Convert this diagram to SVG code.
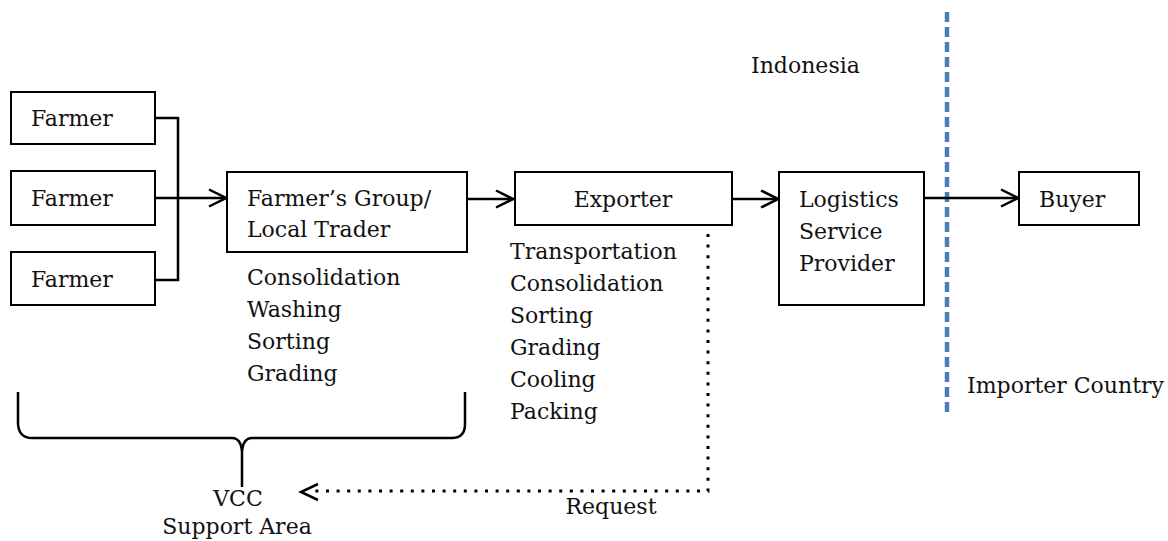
<svg xmlns="http://www.w3.org/2000/svg" width="1168" height="541" viewBox="0 0 1168 541">
  <style>
    .box { fill: #fff; stroke: #000; stroke-width: 2; }
    .t { font-family: "DejaVu Serif", "Liberation Serif", serif; font-size: 22px; fill: #111; }
    .c { text-anchor: middle; }
    .line { fill: none; stroke: #000; stroke-width: 2.5; }
    .flow { fill: none; stroke: #000; stroke-width: 2.5; marker-end: url(#chev); }
    .dot { fill: none; stroke: #000; stroke-width: 3; stroke-dasharray: 3 7.6; }
    .border { fill: none; stroke: #4a7ebb; stroke-width: 4.5; stroke-dasharray: 10 5; }
  </style>
  <defs>
    <marker id="chev" viewBox="0 0 20 20" refX="18" refY="10" markerWidth="20" markerHeight="20" markerUnits="userSpaceOnUse" orient="auto">
      <path d="M1,1.5 L18,10 L1,18.5" fill="none" stroke="#000" stroke-width="2.5"/>
    </marker>
  </defs>

  <rect width="1168" height="541" fill="#fff"/>

  <!-- country border -->
  <line class="border" x1="947" y1="12" x2="947" y2="414"/>
  <text class="t" x="751" y="73">Indonesia</text>
  <text class="t" x="967" y="393">Importer Country</text>

  <!-- connectors -->
  <g id="connectors">
    <path class="line" d="M155,118 H178 V280 H155"/>
    <path class="flow" d="M155,198 H226"/>
    <path class="flow" d="M467,199 H513"/>
    <path class="flow" d="M732,199 H778"/>
    <path class="flow" d="M924,198 H1018"/>
    <path class="dot" d="M708,234 V491 H312"/>
    <path d="M318,484 L301,492 L318,500" fill="none" stroke="#000" stroke-width="2.5"/>
    <text class="t c" x="611" y="514">Request</text>
  </g>

  <g id="farmer1">
    <rect class="box" x="11" y="92" width="144" height="52"/>
    <text class="t" x="31" y="126">Farmer</text>
  </g>
  <g id="farmer2">
    <rect class="box" x="11" y="171" width="144" height="54"/>
    <text class="t" x="31" y="206">Farmer</text>
  </g>
  <g id="farmer3">
    <rect class="box" x="11" y="252" width="144" height="53"/>
    <text class="t" x="31" y="287">Farmer</text>
  </g>

  <g id="farmers-group">
    <rect class="box" x="227" y="172" width="240" height="80"/>
    <text class="t" x="247" y="206">Farmer’s Group/</text>
    <text class="t" x="247" y="237">Local Trader</text>
    <text class="t" x="247" y="285">Consolidation</text>
    <text class="t" x="247" y="317">Washing</text>
    <text class="t" x="247" y="349">Sorting</text>
    <text class="t" x="247" y="381">Grading</text>
  </g>

  <g id="exporter">
    <rect class="box" x="515" y="172" width="217" height="53"/>
    <text class="t c" x="623" y="207">Exporter</text>
    <text class="t" x="510" y="259">Transportation</text>
    <text class="t" x="510" y="291">Consolidation</text>
    <text class="t" x="510" y="323">Sorting</text>
    <text class="t" x="510" y="355">Grading</text>
    <text class="t" x="510" y="387">Cooling</text>
    <text class="t" x="510" y="419">Packing</text>
  </g>

  <g id="logistics">
    <rect class="box" x="779" y="172" width="145" height="133"/>
    <text class="t" x="799" y="207">Logistics</text>
    <text class="t" x="799" y="239">Service</text>
    <text class="t" x="799" y="271">Provider</text>
  </g>

  <g id="buyer">
    <rect class="box" x="1019" y="172" width="120" height="53"/>
    <text class="t" x="1039" y="207">Buyer</text>
  </g>

  <!-- VCC support brace -->
  <g id="vcc">
    <path class="line" d="M18,392 V424 Q19,438 32,438 H232 Q241,438 242,452 V487 M242,452 Q243,438 252,438 H452 Q465,438 465,424 V392"/>
    <text class="t c" x="238" y="506">VCC</text>
    <text class="t c" x="237" y="534">Support Area</text>
  </g>
</svg>
